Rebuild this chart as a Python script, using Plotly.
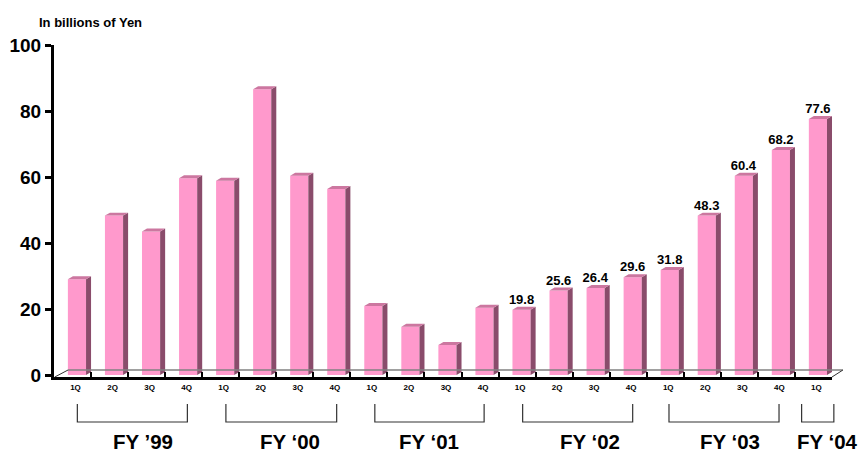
import plotly.graph_objs as go

# quarterly values, FY'99 1Q .. FY'04 1Q (billions of yen)
quarters = ['1Q', '2Q', '3Q', '4Q'] * 5 + ['1Q']
values = [29.0, 48.3, 43.5, 59.6,
          58.9, 86.6, 60.4, 56.4,
          20.9, 14.6, 9.1, 20.4,
          19.8, 25.6, 26.4, 29.6,
          31.8, 48.3, 60.4, 68.2,
          77.6]
show_label = [False] * 12 + [True] * 9

years = ['FY \u201999', 'FY \u201800', 'FY \u201801', 'FY \u201802', 'FY \u201803', 'FY \u201804']
# bracket ends and year label centres, in bar-slot units
bracket_lo = [0.13, 4.14, 8.16, 12.15, 16.1, 19.68]
bracket_hi = [3.1, 7.13, 11.11, 15.12, 19.07, 20.55]
year_pos = [1.89, 5.87, 9.62, 13.97, 17.75, 20.39]

FONT = 'Liberation Sans, Arial, sans-serif'
FRONT = '#FF99CC'
SIDE = '#8A4C6B'
TOP = '#CC77A0'

n = len(values)
xs = list(range(n))
shift = 0.12      # front face sits a bit right of the slot centre
half_w = 0.245    # half width of the front face
dx = 0.135        # depth of the 3d box (x)
dy = 0.9          # depth of the 3d box (y)

# side and top faces of every bar as filled polygons
side_x, side_y, top_x, top_y = [], [], [], []
for i, v in zip(xs, values):
    xl = i + shift - half_w
    xr = i + shift + half_w
    side_x += [xr, xr + dx, xr + dx, xr, xr, None]
    side_y += [0, dy, v + dy, v, 0, None]
    top_x += [xl, xl + dx, xr + dx, xr, xl, None]
    top_y += [v, v + dy, v + dy, v, v, None]

front = go.Bar(x=[i + shift for i in xs], y=values, width=2 * half_w,
               marker=dict(color=FRONT, line=dict(width=0)),
               text=[f'{v:.1f}' if s else '' for v, s in zip(values, show_label)],
               textposition='outside', cliponaxis=False, constraintext='none',
               textfont=dict(family=FONT, size=13, color='black', weight='bold'),
               hoverinfo='skip')
side = go.Scatter(x=side_x, y=side_y, mode='none', fill='toself', fillcolor=SIDE,
                  xaxis='x2', hoverinfo='skip')
top = go.Scatter(x=top_x, y=top_y, mode='none', fill='toself', fillcolor=TOP,
                 xaxis='x2', hoverinfo='skip')


def px(u):
    # slot units -> paper x
    return (u + 0.5) / n


shapes = []
for lo, hi in zip(bracket_lo, bracket_hi):
    shapes.append(dict(type='path', xref='paper', yref='paper',
                       path=f'M {px(lo)} -0.081 L {px(lo)} -0.1355 L {px(hi)} -0.1355 L {px(hi)} -0.081',
                       line=dict(color='#333333', width=1.2)))
# floor of the 3d box
shapes.append(dict(type='line', xref='paper', yref='paper', x0=0.018, y0=0.021, x1=1.014, y1=0.021,
                   line=dict(color='#808080', width=1.5)))
shapes.append(dict(type='line', xref='paper', yref='paper', x0=0.001, y0=0.0, x1=0.018, y1=0.021,
                   line=dict(color='#333333', width=1)))
shapes.append(dict(type='line', xref='paper', yref='paper', x0=1.0, y0=0.0, x1=1.014, y1=0.021,
                   line=dict(color='#333333', width=1)))

annotations = [dict(text='In billions of Yen', xref='paper', yref='paper', x=-0.0219, y=1.069,
                    xanchor='left', yanchor='middle', showarrow=False,
                    font=dict(family=FONT, size=13, color='black', weight='bold'))]
for name, pos in zip(years, year_pos):
    annotations.append(dict(text=name, xref='x', yref='paper', x=pos, y=-0.193,
                            xanchor='center', yanchor='middle', showarrow=False,
                            font=dict(family=FONT, size=20.5, color='black', weight='bold')))

# the page body has an 8px margin, so the figure is 8px smaller than the window
layout = go.Layout(
    width=858, height=445,
    margin=dict(l=46, r=34, t=37, b=76),
    paper_bgcolor='white', plot_bgcolor='white',
    showlegend=False,
    xaxis=dict(range=[-0.5, n - 0.5], tickvals=[i + 0.08 for i in xs], ticktext=quarters,
               ticks='', showgrid=False, zeroline=False, showline=True, linecolor='black', linewidth=3,
               automargin=False,
               tickfont=dict(family=FONT, size=8, color='black', weight='bold')),
    xaxis2=dict(range=[-0.5, n - 0.5], overlaying='x', anchor='y', side='bottom',
                tickvals=[i + 0.5 for i in xs], ticks='inside', ticklen=5, tickwidth=2, tickcolor='black',
                showticklabels=False, showgrid=False, zeroline=False, showline=False, automargin=False),
    yaxis=dict(range=[-0.6, 100], tickvals=[0, 20, 40, 60, 80, 100], ticks='outside', ticklen=6,
               tickwidth=2.5, tickcolor='black', showgrid=False, zeroline=False, showline=True,
               linecolor='black', linewidth=3, automargin=False,
               tickfont=dict(family=FONT, size=19, color='black', weight='bold')),
    shapes=shapes,
    annotations=annotations,
)

fig = go.Figure(data=[front, side, top], layout=layout)
fig.write_html('out.html')
